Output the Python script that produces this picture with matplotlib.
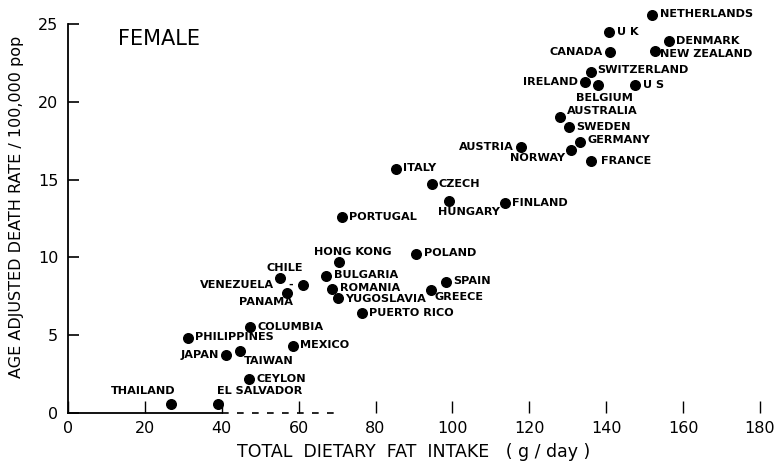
import matplotlib
matplotlib.use("Agg")
import matplotlib.pyplot as plt

plt.rcParams['font.family'] = ['DejaVu Sans']

# data: fat intake (g/day) and death rate per 100,000
countries = ['NETHERLANDS', 'U K', 'CANADA', 'DENMARK', 'NEW ZEALAND', 'SWITZERLAND',
             'IRELAND', 'BELGIUM', 'U S', 'AUSTRALIA', 'SWEDEN', 'GERMANY', 'NORWAY',
             'FRANCE', 'AUSTRIA', 'ITALY', 'CZECH', 'HUNGARY', 'FINLAND', 'PORTUGAL',
             'HONG KONG', 'POLAND', 'CHILE', 'VENEZUELA', 'PANAMA', 'BULGARIA', 'ROMANIA',
             'YUGOSLAVIA', 'PUERTO RICO', 'SPAIN', 'GREECE', 'COLUMBIA', 'PHILIPPINES',
             'JAPAN', 'TAIWAN', 'MEXICO', 'CEYLON', 'THAILAND', 'EL SALVADOR']
fat = [152.0, 140.7, 140.9, 156.2, 152.8, 136.0,
       134.4, 137.8, 147.4, 128.0, 130.3, 133.2, 130.8,
       136.0, 117.9, 85.2, 94.6, 99.2, 113.7, 71.2,
       70.5, 90.4, 55.2, 61.1, 57.0, 67.1, 68.7,
       70.2, 76.4, 98.4, 94.3, 47.4, 31.1,
       41.2, 44.8, 58.5, 47.2, 26.9, 39.1]
death = [25.6, 24.5, 23.2, 23.9, 23.3, 21.9,
         21.3, 21.1, 21.1, 19.0, 18.4, 17.4, 16.9,
         16.2, 17.1, 15.7, 14.7, 13.6, 13.5, 12.6,
         9.7, 10.2, 8.7, 8.2, 7.7, 8.8, 8.0,
         7.4, 6.4, 8.4, 7.9, 5.5, 4.8,
         3.7, 4.0, 4.3, 2.2, 0.6, 0.6]

# label placement (offset in pixels, horizontal alignment)
label_pos = {
    'NETHERLANDS': (8, 1, 'left'), 'U K': (8, 0, 'left'), 'CANADA': (-7, 0, 'right'),
    'DENMARK': (7, 0, 'left'), 'NEW ZEALAND': (5, -3, 'left'), 'SWITZERLAND': (6, 2, 'left'),
    'IRELAND': (-7, 0, 'right'), 'BELGIUM': (-22, -13, 'left'), 'U S': (8, 0, 'left'),
    'AUSTRALIA': (7, 6, 'left'), 'SWEDEN': (7, 0, 'left'), 'GERMANY': (7, 2, 'left'),
    'NORWAY': (-6, -8, 'right'), 'FRANCE': (10, 0, 'left'), 'AUSTRIA': (-7, 0, 'right'),
    'ITALY': (7, 1, 'left'), 'CZECH': (7, 0, 'left'), 'HUNGARY': (-11, -11, 'left'),
    'FINLAND': (7, 0, 'left'), 'PORTUGAL': (7, 0, 'left'), 'HONG KONG': (-25, 10, 'left'),
    'POLAND': (8, 1, 'left'), 'CHILE': (-14, 10, 'left'), 'VENEZUELA': (-29, 0, 'right'),
    'PANAMA': (-48, -9, 'left'), 'BULGARIA': (8, 1, 'left'), 'ROMANIA': (8, 1, 'left'),
    'YUGOSLAVIA': (7, -1, 'left'), 'PUERTO RICO': (7, 0, 'left'), 'SPAIN': (7, 1, 'left'),
    'GREECE': (4, -7, 'left'), 'COLUMBIA': (7, 0, 'left'), 'PHILIPPINES': (7, 1, 'left'),
    'JAPAN': (-7, 0, 'right'), 'TAIWAN': (4, -10, 'left'), 'MEXICO': (7, 1, 'left'),
    'CEYLON': (7, 0, 'left'), 'THAILAND': (4, 13, 'right'), 'EL SALVADOR': (-1, 13, 'left'),
}

fig = plt.figure(figsize=(7.76, 4.63), dpi=100)
ax = fig.add_axes([68 / 776, 50 / 463, 692 / 776, 413 / 463])
ax.set_xlim(0, 180)
ax.set_ylim(0, 26.55)

ax.scatter(fat, death, s=48, color='black', zorder=3, clip_on=False)

for name, x, y in zip(countries, fat, death):
    dx, dy, ha = label_pos[name]
    ax.annotate(name, (x, y), xytext=(dx, dy), textcoords='offset pixels',
                ha=ha, va='center', fontsize=8.1, fontweight='bold',
                annotation_clip=False)

# the little dash between VENEZUELA and its dot
vi = countries.index('VENEZUELA')
ax.annotate('-', (fat[vi], death[vi]), xytext=(-12, 1), textcoords='offset pixels',
            ha='center', va='center', fontsize=8, fontweight='bold')

ax.text(0.072, 0.905, 'FEMALE', transform=ax.transAxes, fontsize=15,
        ha='left', va='center')

# axes styling, scan-like: broken bottom axis
for s in ['top', 'right']:
    ax.spines[s].set_visible(False)
ax.spines['left'].set_bounds(0, 25)
ax.spines['bottom'].set_bounds(0, 40)
ax.spines['left'].set_linewidth(1.3)
ax.spines['bottom'].set_linewidth(1.3)
ax.plot([40, 70], [0, 0], color='black', lw=1.2, ls=(0, (4, 5)), clip_on=False)

ax.set_xticks(range(0, 181, 20))
ax.set_yticks(range(0, 26, 5))
ax.tick_params(axis='x', direction='in', length=9, width=1, pad=6, labelsize=11.5)
ax.tick_params(axis='y', direction='in', length=8, width=1.2, pad=7, labelsize=11.5)

ax.set_xlabel('TOTAL  DIETARY  FAT  INTAKE   ( g / day )', fontsize=12.5, labelpad=5)
ax.set_ylabel('AGE ADJUSTED DEATH RATE / 100,000 pop', fontsize=11.5, labelpad=10)

fig.savefig('out.png', dpi=100)
